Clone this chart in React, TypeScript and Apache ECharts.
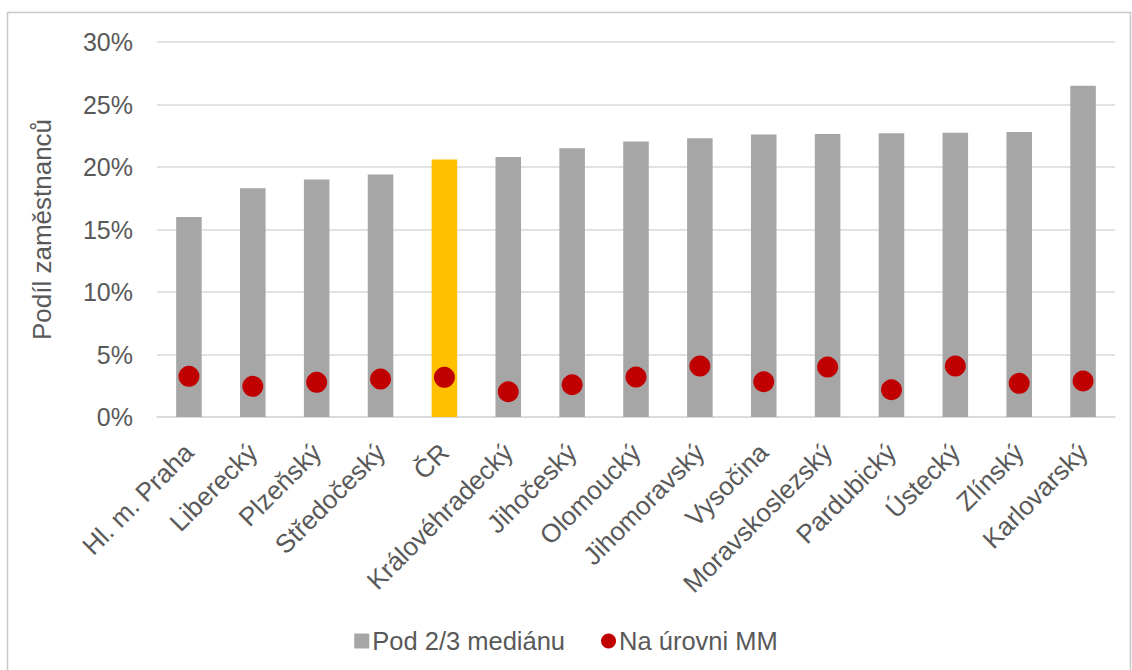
import React, { useEffect, useRef } from "react";
import * as echarts from "echarts";

const categories = [
  "Hl. m. Praha", "Liberecký", "Plzeňský", "Středočeský", "ČR", "Královéhradecký",
  "Jihočeský", "Olomoucký", "Jihomoravský", "Vysočina", "Moravskoslezský",
  "Pardubický", "Ústecký", "Zlínský", "Karlovarský",
];
const below23 = [16.0, 18.3, 19.0, 19.4, 20.6, 20.8, 21.5, 22.05, 22.3, 22.6, 22.65, 22.7, 22.75, 22.8, 26.5];
const atMin = [3.25, 2.45, 2.77, 3.03, 3.17, 2.02, 2.58, 3.19, 4.07, 2.82, 3.99, 2.18, 4.07, 2.69, 2.88];
const highlight = "ČR";
const seriesNames = ["Pod 2/3 mediánu", "Na úrovni MM"];

const FONT = "'Liberation Sans', Arial, sans-serif";
const TXT = "#595959";

export default function App() {
  const ref = useRef<HTMLDivElement>(null);
  useEffect(() => {
    const chart = echarts.init(ref.current!, null, { renderer: "svg" });
    chart.setOption({
      animation: false,
      textStyle: { fontFamily: FONT, color: TXT },
      graphic: [
        {
          type: "rect",
          shape: { x: 7.5, y: 12.5, width: 1123, height: 700 },
          style: { fill: "none", stroke: "#c8c8c8", lineWidth: 1.5 },
          silent: true,
        },
      ],
      grid: { left: 157, right: 17, top: 42, bottom: 253, containLabel: false },
      legend: {
        left: "center",
        top: 623,
        itemWidth: 15,
        itemHeight: 15,
        itemGap: 36,
        textStyle: { fontFamily: FONT, color: TXT, fontSize: 25.5, padding: [0, 0, 0, -2] },
        data: [
          { name: seriesNames[0], icon: "rect" },
          { name: seriesNames[1], icon: "circle" },
        ],
      },
      xAxis: {
        type: "category",
        data: categories,
        axisLine: { lineStyle: { color: "#d9d9d9", width: 1.5 } },
        axisTick: { show: false },
        axisLabel: {
          rotate: 45,
          interval: 0,
          margin: 31,
          fontSize: 26,
          color: TXT,
          fontFamily: FONT,
        },
      },
      yAxis: {
        type: "value",
        min: 0,
        max: 30,
        interval: 5,
        name: "Podíl zaměstnanců",
        nameLocation: "middle",
        nameGap: 102,
        nameTextStyle: { fontSize: 26, color: TXT, fontFamily: FONT },
        axisLine: { show: false },
        axisTick: { show: false },
        splitLine: { lineStyle: { color: "#d9d9d9", width: 1.5 } },
        axisLabel: {
          formatter: "{value}%",
          fontSize: 25,
          margin: 24,
          color: TXT,
          fontFamily: FONT,
        },
      },
      series: [
        {
          name: seriesNames[0],
          type: "bar",
          barWidth: "40%",
          itemStyle: { color: "#a6a6a6" },
          data: below23.map((v, i) =>
            categories[i] === highlight ? { value: v, itemStyle: { color: "#ffc000" } } : v
          ),
        },
        {
          name: seriesNames[1],
          type: "scatter",
          symbol: "circle",
          symbolSize: 21,
          itemStyle: { color: "#c00000", opacity: 1 },
          data: atMin,
          z: 3,
        },
      ],
    });
    return () => chart.dispose();
  }, []);
  return (
    <div
      ref={ref}
      style={{ position: "absolute", left: 0, top: 0, width: 1132, height: 670, background: "#fff" }}
    />
  );
}
